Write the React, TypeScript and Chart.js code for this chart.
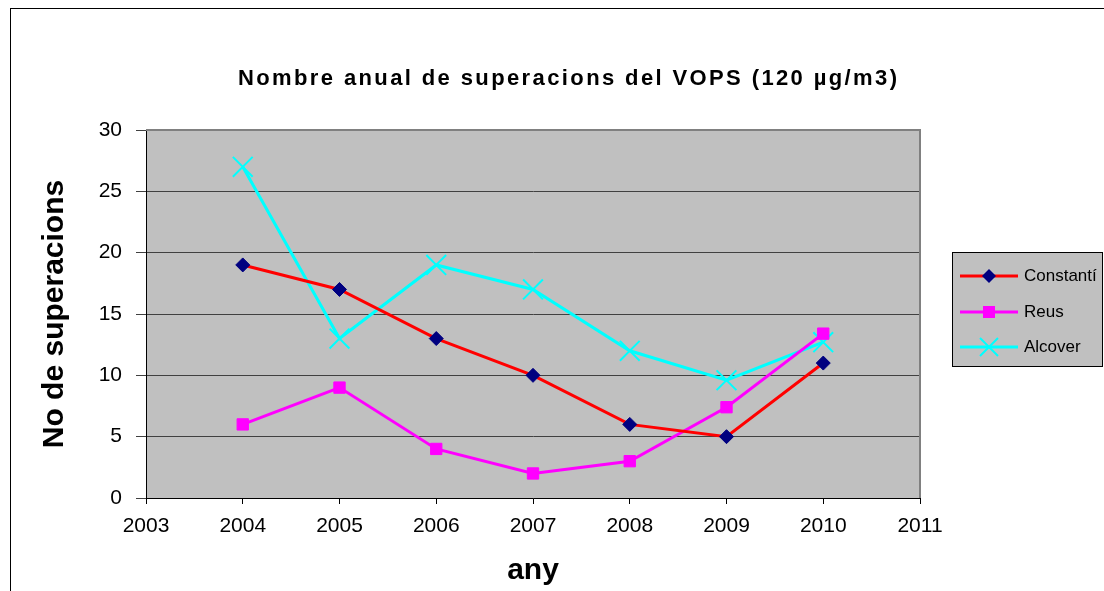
import React, { useEffect, useRef } from "react";
import { Chart, registerables } from "chart.js";

Chart.register(...registerables);

const years = [2004, 2005, 2006, 2007, 2008, 2009, 2010];
const constanti = [19, 17, 13, 10, 6, 5, 11];
const reus = [6, 9, 4, 2, 3, 7.4, 13.4];
const alcover = [27, 13, 19, 17, 12, 9.6, 12.7];
const seriesNames = ["Constantí", "Reus", "Alcover"];
const chartTitle = "Nombre anual de superacions del VOPS (120 µg/m3)";
const xTitle = "any";
const yTitle = "No de superacions";

const FONT = "'Liberation Sans', Arial, sans-serif";

const bgPlugin = {
  id: "bgPlugin",
  beforeDraw(chart: any) {
    const { ctx, chartArea } = chart;
    ctx.save();
    ctx.fillStyle = "#ffffff";
    ctx.fillRect(0, 0, chart.width, chart.height);
    ctx.strokeStyle = "#000000";
    ctx.lineWidth = 1;
    ctx.strokeRect(10.5, 8.5, chart.width + 20, chart.height + 20);
    ctx.fillStyle = "#C0C0C0";
    ctx.fillRect(chartArea.left, chartArea.top, chartArea.right - chartArea.left, chartArea.bottom - chartArea.top);
    // title
    ctx.fillStyle = "#000000";
    ctx.font = `bold 22px ${FONT}`;
    ctx.textBaseline = "alphabetic";
    ctx.textAlign = "left";
    const targetW = 659;
    (ctx as any).letterSpacing = "0px";
    const natural = ctx.measureText(chartTitle).width;
    const sp = Math.max(0, (targetW - natural) / (chartTitle.length - 1));
    (ctx as any).letterSpacing = `${sp}px`;
    ctx.fillText(chartTitle, 567.5 - targetW / 2, 85);
    (ctx as any).letterSpacing = "0px";
    ctx.restore();
  },
  afterDatasetsDraw(chart: any) {
    const { ctx, chartArea } = chart;
    ctx.save();
    ctx.strokeStyle = "#808080";
    ctx.lineWidth = 2;
    ctx.beginPath();
    ctx.moveTo(chartArea.left, chartArea.top);
    ctx.lineTo(chartArea.right, chartArea.top);
    ctx.lineTo(chartArea.right, chartArea.bottom);
    ctx.stroke();
    ctx.restore();
  },
};

const legendPlugin = {
  id: "customLegend",
  afterDraw(chart: any) {
    const { ctx } = chart;
    const x0 = 952, y0 = 252, w = 150, h = 114;
    ctx.save();
    ctx.fillStyle = "#C0C0C0";
    ctx.fillRect(x0, y0, w, h);
    ctx.strokeStyle = "#000000";
    ctx.lineWidth = 1;
    ctx.strokeRect(x0 + 0.5, y0 + 0.5, w, h);
    const rows = [276, 312, 347];
    chart.data.datasets.forEach((ds: any, i: number) => {
      const y = rows[i];
      ctx.strokeStyle = ds.borderColor;
      ctx.lineWidth = 3;
      ctx.beginPath();
      ctx.moveTo(960, y);
      ctx.lineTo(1018, y);
      ctx.stroke();
      const cx = 989;
      ctx.fillStyle = ds.pointBackgroundColor;
      ctx.strokeStyle = ds.pointBorderColor;
      if (ds.pointStyle === "rectRot") {
        ctx.beginPath();
        ctx.moveTo(cx, y - 7);
        ctx.lineTo(cx + 7, y);
        ctx.lineTo(cx, y + 7);
        ctx.lineTo(cx - 7, y);
        ctx.closePath();
        ctx.fill();
      } else if (ds.pointStyle === "rect") {
        ctx.fillRect(cx - 6, y - 6, 12, 12);
      } else {
        ctx.lineWidth = 2;
        ctx.beginPath();
        ctx.moveTo(cx - 9, y - 9);
        ctx.lineTo(cx + 9, y + 9);
        ctx.moveTo(cx + 9, y - 9);
        ctx.lineTo(cx - 9, y + 9);
        ctx.stroke();
      }
      ctx.fillStyle = "#000000";
      ctx.font = `17px ${FONT}`;
      ctx.textBaseline = "middle";
      ctx.textAlign = "left";
      ctx.fillText(ds.label, 1024, y);
    });
    ctx.restore();
  },
};

export default function App() {
  const ref = useRef<HTMLCanvasElement>(null);
  useEffect(() => {
    if (!ref.current) return;
    const mk = (arr: number[]) => years.map((x, i) => ({ x, y: arr[i] }));
    const chart = new Chart(ref.current, {
      type: "line",
      data: {
        datasets: [
          {
            label: seriesNames[0],
            data: mk(constanti),
            borderColor: "#FF0000",
            borderWidth: 3,
            pointStyle: "rectRot",
            pointRadius: 7,
            pointBackgroundColor: "#000080",
            pointBorderColor: "#000080",
            pointBorderWidth: 1,
          },
          {
            label: seriesNames[1],
            data: mk(reus),
            borderColor: "#FF00FF",
            borderWidth: 3,
            pointStyle: "rect",
            pointRadius: 8,
            pointBackgroundColor: "#FF00FF",
            pointBorderColor: "#FF00FF",
            pointBorderWidth: 1,
          },
          {
            label: seriesNames[2],
            data: mk(alcover),
            borderColor: "#00FFFF",
            borderWidth: 3,
            pointStyle: "crossRot",
            pointRadius: 14,
            pointBackgroundColor: "#00FFFF",
            pointBorderColor: "#00FFFF",
            pointBorderWidth: 2,
          },
        ],
      },
      options: {
        animation: false,
        responsive: false,
        layout: { padding: { left: 0, right: 184, top: 130, bottom: 0 } },
        plugins: {
          legend: { display: false },
          tooltip: { enabled: false },
          title: { display: false },
        },
        scales: {
          x: {
            type: "linear",
            min: 2003,
            max: 2011,
            ticks: {
              stepSize: 1,
              color: "#000000",
              font: { family: FONT, size: 21 },
              callback: (v: any) => String(v),
              padding: 10,
              maxRotation: 0,
            },
            grid: { drawOnChartArea: false, drawTicks: true, tickLength: 6, color: "#000000" },
            border: { color: "#000000", width: 1 },
            title: {
              display: true,
              text: xTitle,
              color: "#000000",
              font: { family: FONT, size: 30, weight: "bold" },
              padding: { top: 10, bottom: 2 },
            },
            afterFit: (s: any) => { s.height = 93; },
          },
          y: {
            min: 0,
            max: 30,
            ticks: {
              stepSize: 5,
              color: "#000000",
              font: { family: FONT, size: 21 },
              padding: 14,
            },
            grid: { color: "#404040", lineWidth: 1, tickLength: 10, drawTicks: true },
            border: { color: "#000000", width: 1 },
            title: {
              display: true,
              text: yTitle,
              color: "#000000",
              font: { family: FONT, size: 30, weight: "bold" },
              padding: { top: 37, bottom: 4 },
            },
            afterFit: (s: any) => { s.width = 146; },
          },
        },
      },
      plugins: [bgPlugin, legendPlugin],
    } as any);
    return () => chart.destroy();
  }, []);
  return (
    <canvas
      ref={ref}
      width={1104}
      height={591}
      style={{ position: "fixed", left: 0, top: 0, width: 1104, height: 591 }}
    />
  );
}
